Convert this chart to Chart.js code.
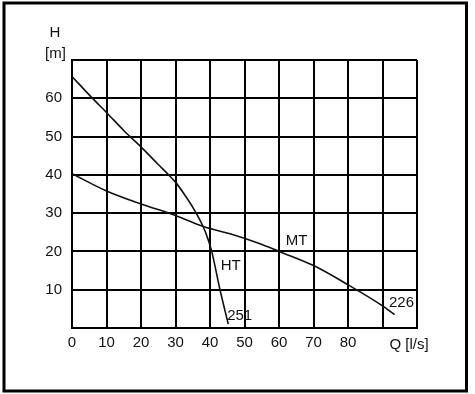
<!DOCTYPE html>
<html>
<head>
<meta charset="utf-8">
<script src="https://cdn.jsdelivr.net/npm/chart.js@4/dist/chart.umd.min.js"></script>
<style>
html,body{margin:0;padding:0;background:#fff;}
canvas{display:block;}
</style>
</head>
<body>
<canvas id="c" width="475" height="394"></canvas>
<script>
// Data
const qHT = [0, 5.6, 10, 15, 20, 25, 28, 30, 32.5, 35.1, 38, 39.5, 40.5, 42.9, 45.3];
const hHT = [65.7, 60.3, 56.3, 51.6, 47.3, 42.7, 40, 38.1, 35, 31.4, 26.5, 23, 20, 10, 1];
const qMT = [0, 10, 20, 30, 38.1, 45.8, 54.5, 60, 70, 80, 90, 93.5];
const hMT = [40.3, 35.8, 32.4, 29.4, 26.5, 24.6, 22, 20, 16.3, 11.3, 5.8, 3.5];
const xTicks = [0, 10, 20, 30, 40, 50, 60, 70, 80];
const yTicks = [10, 20, 30, 40, 50, 60];
const curveLabels = [
  {text: 'HT', q: 46, h: 16.2},
  {text: '251', q: 48.6, h: 3.1},
  {text: 'MT', q: 65.1, h: 22.7},
  {text: '226', q: 95.5, h: 6.6}
];

const FONT = "'Liberation Sans', Arial, sans-serif";
const toPts = (xs, ys) => xs.map((x, i) => ({x: x, y: ys[i]}));

const extras = {
  id: 'extras',
  afterDraw(chart) {
    const ctx = chart.ctx;
    const xs = chart.scales.x, ys = chart.scales.y;
    ctx.save();
    ctx.fillStyle = '#111';
    ctx.font = '15px ' + FONT;
    ctx.textAlign = 'center';
    ctx.textBaseline = 'middle';
    curveLabels.forEach(l => {
      ctx.fillText(l.text, xs.getPixelForValue(l.q), ys.getPixelForValue(l.h));
    });
    ctx.fillText('H', 55, 33);
    ctx.fillText('[m]', 55.5, 53.5);
    ctx.fillText('Q [l/s]', 409, 345);
    ctx.strokeStyle = '#000';
    ctx.lineWidth = 3;
    ctx.strokeRect(4, 3, 462.5, 388);
    ctx.restore();
  }
};

new Chart(document.getElementById('c'), {
  type: 'scatter',
  data: {
    datasets: [
      {label: 'HT', data: toPts(qHT, hHT), showLine: true, borderColor: '#111', borderWidth: 1.6, pointRadius: 0, cubicInterpolationMode: 'monotone', fill: false},
      {label: 'MT', data: toPts(qMT, hMT), showLine: true, borderColor: '#111', borderWidth: 1.6, pointRadius: 0, cubicInterpolationMode: 'monotone', fill: false}
    ]
  },
  options: {
    responsive: false,
    maintainAspectRatio: false,
    animation: false,
    devicePixelRatio: 1,
    layout: {padding: {left: 0, top: 60, right: 58, bottom: 0}},
    plugins: {legend: {display: false}, tooltip: {enabled: false}},
    scales: {
      x: {
        type: 'linear', min: 0, max: 100,
        afterFit: s => { s.height = 66; },
        grid: {color: '#000', lineWidth: 2, drawTicks: false},
        border: {color: '#000', width: 2},
        ticks: {
          stepSize: 10, padding: 6, maxRotation: 0,
          color: '#111', font: {family: FONT, size: 15},
          callback: v => (xTicks.includes(v) ? String(v) : '')
        }
      },
      y: {
        type: 'linear', min: 0, max: 70,
        afterFit: s => { s.width = 72; },
        grid: {color: '#000', lineWidth: 2, drawTicks: false},
        border: {color: '#000', width: 2},
        ticks: {
          stepSize: 10, padding: 10,
          color: '#111', font: {family: FONT, size: 15},
          callback: v => (yTicks.includes(v) ? String(v) : '')
        }
      }
    }
  },
  plugins: [extras]
});
</script>
</body>
</html>
